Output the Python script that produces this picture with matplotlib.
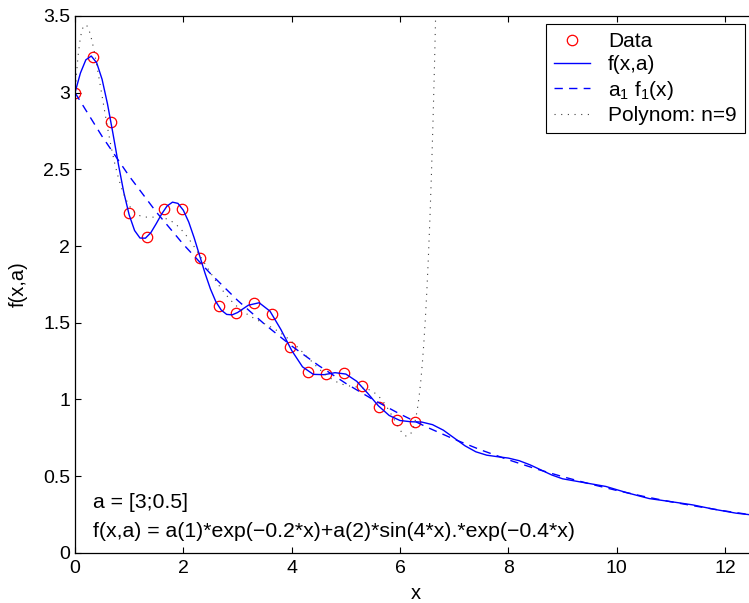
import numpy as np
import matplotlib
matplotlib.use("Agg")
import matplotlib.pyplot as plt
from matplotlib.ticker import FormatStrFormatter

plt.rcParams['font.family'] = ['Liberation Sans', 'DejaVu Sans']
plt.rcParams['mathtext.default'] = 'regular'

# measured points (red circles)
data_x = [0.00, 0.33, 0.66, 0.99, 1.32, 1.65, 1.98, 2.31, 2.65, 2.98,
          3.31, 3.64, 3.97, 4.30, 4.63, 4.96, 5.29, 5.62, 5.95, 6.28]
data_y = [3.000, 3.233, 2.811, 2.213, 2.056, 2.239, 2.243, 1.921, 1.608, 1.561,
          1.630, 1.556, 1.340, 1.180, 1.163, 1.170, 1.086, 0.949, 0.867, 0.854]

# f(x,a) solid curve
fit_x = [0.0, 0.1, 0.2, 0.3, 0.4, 0.5, 0.6, 0.7, 0.8, 0.9,
         1.0, 1.1, 1.2, 1.3, 1.4, 1.5, 1.6, 1.7, 1.8, 1.9,
         2.0, 2.1, 2.2, 2.3, 2.4, 2.5, 2.6, 2.7, 2.8, 2.9, 3.0,
         3.2, 3.4, 3.6, 3.8, 4.0, 4.2, 4.4, 4.6, 4.8, 5.0,
         5.2, 5.4, 5.6, 5.8, 6.0, 6.2, 6.4, 6.6, 6.8, 7.0,
         7.2, 7.4, 7.6, 7.8, 8.0, 8.2, 8.4, 8.6, 8.8, 9.0,
         9.4, 9.8, 10.2, 10.6, 11.0, 11.4, 11.8, 12.2, 12.6]
fit_y = [3.000, 3.128, 3.214, 3.239, 3.195, 3.087, 2.926, 2.735, 2.535, 2.351,
         2.203, 2.101, 2.052, 2.051, 2.087, 2.146, 2.209, 2.261, 2.286, 2.278,
         2.233, 2.156, 2.053, 1.938, 1.823, 1.720, 1.637, 1.582, 1.554, 1.551, 1.566,
         1.614, 1.630, 1.575, 1.456, 1.319, 1.212, 1.163, 1.161, 1.174, 1.165,
         1.118, 1.041, 0.958, 0.895, 0.862, 0.854, 0.852, 0.835, 0.799, 0.748,
         0.697, 0.658, 0.636, 0.626, 0.617, 0.600, 0.573, 0.540, 0.507, 0.482,
         0.457, 0.432, 0.390, 0.353, 0.333, 0.312, 0.283, 0.258, 0.242]

# a1 f1(x) dashed curve
base_x = [0.0, 0.5, 1.0, 1.5, 2.0, 2.5, 3.0, 3.5, 4.0, 4.5, 5.0, 5.5, 6.0,
          6.5, 7.0, 7.5, 8.0, 8.5, 9.0, 9.5, 10.0, 10.5, 11.0, 11.5, 12.0, 12.5, 12.6]
base_y = [3.000, 2.715, 2.456, 2.222, 2.011, 1.820, 1.646, 1.490, 1.348, 1.220, 1.104,
          0.999, 0.904, 0.818, 0.740, 0.669, 0.606, 0.548, 0.496, 0.449, 0.406,
          0.367, 0.332, 0.301, 0.272, 0.246, 0.241]

poly_degree = 9
legend_labels = ['Data', 'f(x,a)', 'a$_1$ f$_1$(x)', 'Polynom: n=%d' % poly_degree]
xticks = [0, 2, 4, 6, 8, 10, 12]
yticks = [0, 0.5, 1, 1.5, 2, 2.5, 3, 3.5]

# least squares polynomial through the data
coef = np.polyfit(data_x, data_y, poly_degree)
poly_x = np.linspace(0, 7, 500)
poly_y = np.polyval(coef, poly_x)

fig = plt.figure(figsize=(7.49, 6.03), dpi=100)
ax = fig.add_axes([75 / 749, 50.3 / 603, 680.7 / 749, 536.7 / 603])

ax.plot(data_x, data_y, 'o', mfc='none', mec='red', ms=7.5, mew=0.9, label=legend_labels[0])
ax.plot(fit_x, fit_y, '-', color='blue', lw=1.0, label=legend_labels[1])
ax.plot(base_x, base_y, color='blue', lw=1.0, dashes=(6, 4.5), label=legend_labels[2])
ax.plot(poly_x, poly_y, color='0.25', lw=0.8, dashes=(1, 5), label=legend_labels[3])

ax.set_xlim(0, 12.566)
ax.set_ylim(0, 3.5)
ax.set_xticks(xticks)
ax.set_yticks(yticks)
ax.yaxis.set_major_formatter(FormatStrFormatter('%g'))
ax.tick_params(direction='in', top=True, right=True, length=4.5, width=0.8,
               labelsize=14, pad=5)
ax.tick_params(axis='y', pad=3.5)
for s in ax.spines.values():
    s.set_linewidth(0.9)

ax.set_xlabel('x', fontsize=14.5)
ax.set_ylabel('f(x,a)', fontsize=14.5)
ax.xaxis.set_label_coords(0.5, -0.058)
ax.yaxis.set_label_coords(-0.069, 0.5)

ax.text(0.33, 0.293, 'a = [3;0.5]', fontsize=15.3, va='baseline')
ax.text(0.33, 0.104, 'f(x,a) = a(1)*exp(\u22120.2*x)+a(2)*sin(4*x).*exp(\u22120.4*x)',
        fontsize=15.3, va='baseline')

leg = ax.legend(loc='upper left', bbox_to_anchor=(546 / 749, 1 - 24 / 603),
                bbox_transform=fig.transFigure, borderaxespad=0, fontsize=15,
                fancybox=False, framealpha=1, edgecolor='black',
                handlelength=1.7, handletextpad=0.88, borderpad=0.4, labelspacing=0.2)
leg.get_frame().set_linewidth(0.8)

fig.savefig('out.png', dpi=100)
